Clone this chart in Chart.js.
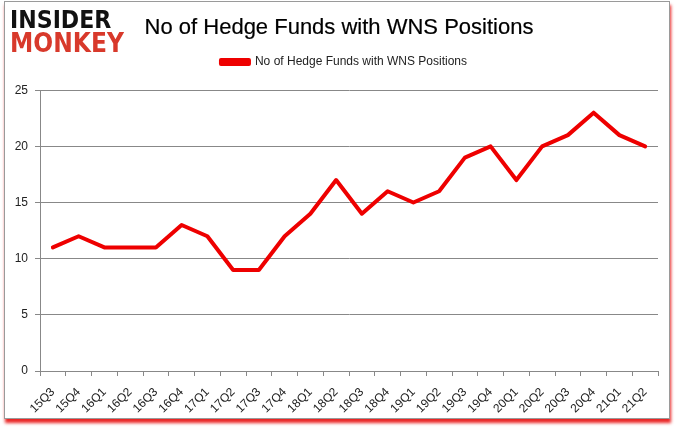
<!DOCTYPE html>
<html>
<head>
<meta charset="utf-8">
<script src="https://cdn.jsdelivr.net/npm/chart.js@4.4.0/dist/chart.umd.min.js"></script>
<style>
  html, body { margin: 0; padding: 0; background: #fff; width: 678px; height: 431px; overflow: hidden; }
  #frame { position: absolute; left: 4px; top: 1px; width: 664px; height: 416px; border: 1px solid #9a9a9a; box-shadow: 1px 4px 3px rgba(230,0,0,0.85); background: #fff; }
  #wrap { position: absolute; left: 0; top: 0; width: 678px; height: 431px; }
  .logo { position: absolute; left: 10px; font-family: "DejaVu Sans", sans-serif; font-weight: bold; font-size: 26px; line-height: 26px; transform-origin: 0 0; white-space: nowrap; }
  #l1 { top: 7px; color: #111; transform: scale(0.85, 0.95); }
  #l2 { top: 30px; color: #d8392b; transform: scale(0.9, 1.02); }
  #title { position: absolute; left: 0; width: 678px; top: 12px; text-align: center; font-family: "Liberation Sans", Arial, sans-serif; font-size: 22px; line-height: 30px; color: #000; -webkit-text-stroke: 0.2px #000; }
</style>
</head>
<body>
<div id="frame"></div>
<div id="wrap"><canvas id="c" width="678" height="431"></canvas></div>
<div class="logo" id="l1">INSIDER</div>
<div class="logo" id="l2">MONKEY</div>
<div id="title"></div>
<script>
const categories = ["15Q3","15Q4","16Q1","16Q2","16Q3","16Q4","17Q1","17Q2","17Q3","17Q4","18Q1","18Q2","18Q3","18Q4","19Q1","19Q2","19Q3","19Q4","20Q1","20Q2","20Q3","20Q4","21Q1","21Q2"];
const hedgeFunds = [11,12,11,11,11,13,12,9,9,12,14,17,14,16,15,16,19,20,17,20,21,23,21,20];
const yTicks = [0,5,10,15,20,25];
const seriesName = "No of Hedge Funds with WNS Positions";
const titleText = "No of Hedge Funds with WNS Positions";

document.getElementById('title').textContent = titleText;

const FONT = "'Liberation Sans', Arial, sans-serif";

const legendShift = {
  id: 'legendShift',
  afterLayout(chart) {
    if (chart.legend) { chart.legend.left += 15; chart.legend.right += 15; }
  }
};

new Chart(document.getElementById('c'), {
  type: 'line',
  data: {
    labels: categories,
    datasets: [{
      label: seriesName,
      data: hedgeFunds,
      borderColor: '#ee0000',
      backgroundColor: '#ee0000',
      borderWidth: 4,
      pointRadius: 0,
      tension: 0,
      borderJoinStyle: 'round',
      borderCapStyle: 'round'
    }]
  },
  plugins: [legendShift],
  options: {
    responsive: false,
    animation: false,
    devicePixelRatio: 1,
    layout: { padding: { left: 0, right: 20, top: 34, bottom: 0 } },
    plugins: {
      title: { display: false },
      subtitle: {
        display: true,
        text: ' ',
        weight: 500,
        font: { size: 1 },
        padding: { top: 0, bottom: 11 }
      },
      legend: {
        display: true,
        labels: {
          color: '#222',
          font: { family: FONT, size: 12 },
          boxWidth: 28,
          boxHeight: 4,
          padding: 22
        }
      },
      tooltip: { enabled: false }
    },
    scales: {
      x: {
        offset: true,
        grid: { display: true, drawOnChartArea: false, offset: true, color: '#888', tickLength: 5 },
        border: { display: true, color: '#888' },
        ticks: { color: '#222', font: { family: FONT, size: 12 }, minRotation: 45, maxRotation: 45, autoSkip: false, padding: 9 },
        afterFit: (s) => { s.height = 60; }
      },
      y: {
        min: 0, max: 25,
        afterBuildTicks: (s) => { s.ticks = yTicks.map(v => ({ value: v })); },
        grid: { color: '#888', tickLength: 5 },
        border: { display: true, color: '#888' },
        ticks: { color: '#222', font: { family: FONT, size: 12 }, padding: 7 },
        afterFit: (s) => { s.width = 40; }
      }
    }
  }
});
</script>
</body>
</html>
